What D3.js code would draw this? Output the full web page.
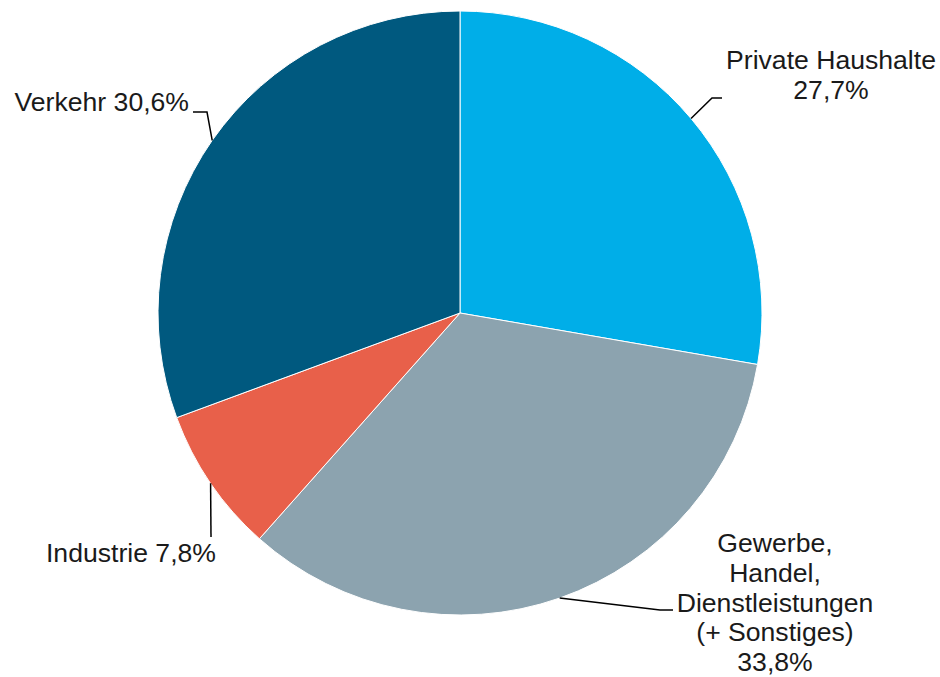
<!DOCTYPE html>
<html>
<head>
<meta charset="utf-8">
<script src="https://cdn.jsdelivr.net/npm/d3@7"></script>
<style>
  html, body { margin: 0; padding: 0; background: #ffffff; }
  svg { display: block; }
</style>
</head>
<body>
<svg id="chart" width="940" height="677"></svg>
<script>
// ---- Data ----
const categories = ["Private Haushalte", "Gewerbe, Handel, Dienstleistungen (+ Sonstiges)", "Industrie", "Verkehr"];
const values = [27.7, 33.8, 7.8, 30.6];
const colors = ["#00AEE8", "#8CA3AF", "#E8604A", "#00597F"];

// ---- Label layout (positions only) ----
const labelLayout = [
  { lines: ["Private Haushalte", "{v}"], x: 831, y: 69, lh: 30, anchor: "middle", leader: [[712, 98], [722, 98]] },
  { lines: ["Gewerbe,", "Handel,", "Dienstleistungen", "(+ Sonstiges)", "{v}"], x: 775, y: 552, lh: 29.8, anchor: "middle", leader: [[660, 610], [673, 610]] },
  { lines: ["Industrie {v}"], x: 131, y: 562, lh: 30, anchor: "middle", leader: [[211, 537]] },
  { lines: ["Verkehr {v}"], x: 189, y: 111, lh: 30, anchor: "end", leader: [[207, 112], [193, 112]] }
];

const fmt = v => d3.format(".1f")(v).replace(".", ",") + "%";

const svg = d3.select("#chart");
const cx = 460, cy = 313, R = 302;

const pie = d3.pie().sort(null).value(d => d.value).startAngle(0).endAngle(2 * Math.PI);
const data = categories.map((c, i) => ({ name: c, value: values[i], color: colors[i], layout: labelLayout[i] }));
const arcs = pie(data);
const arc = d3.arc().innerRadius(0).outerRadius(R);

const g = svg.append("g").attr("transform", `translate(${cx},${cy})`);
g.selectAll("path.slice")
  .data(arcs)
  .enter().append("path")
  .attr("class", "slice")
  .attr("d", arc)
  .attr("fill", d => d.data.color)
  .attr("stroke", "#ffffff")
  .attr("stroke-width", 1);

// Leader lines
const line = d3.line();
arcs.forEach(a => {
  const mid = (a.startAngle + a.endAngle) / 2;
  const p0 = [cx + R * Math.sin(mid), cy - R * Math.cos(mid)];
  const pts = [p0].concat(a.data.layout.leader);
  svg.append("path")
    .attr("d", line(pts))
    .attr("fill", "none")
    .attr("stroke", "#000000")
    .attr("stroke-width", 1.5);
});

// Labels
arcs.forEach(a => {
  const L = a.data.layout;
  const t = svg.append("text")
    .attr("x", L.x)
    .attr("y", L.y)
    .attr("text-anchor", L.anchor)
    .attr("font-family", "'Liberation Sans', Arial, sans-serif")
    .attr("font-size", "26.6px")
    .attr("fill", "#1a1a1a");
  L.lines.forEach((ln, i) => {
    t.append("tspan")
      .attr("x", L.x)
      .attr("y", L.y + i * L.lh)
      .text(ln.replace("{v}", fmt(a.data.value)));
  });
});
</script>
</body>
</html>
